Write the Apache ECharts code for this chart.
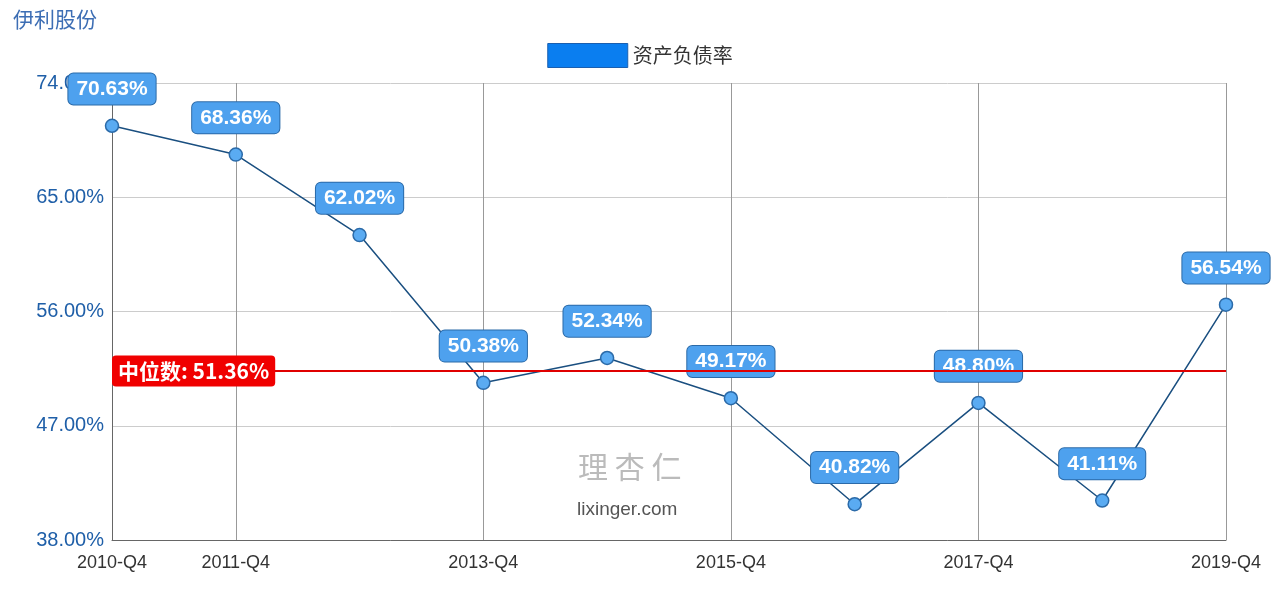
<!DOCTYPE html>
<html><head><meta charset="utf-8">
<script src="https://cdn.jsdelivr.net/npm/echarts@6/dist/echarts.min.js"></script>
<style>html,body{margin:0;padding:0;background:#fff}#c{width:1280px;height:600px}</style>
</head><body><div id="c"></div>
<script>
const categories=['2010-Q4','2011-Q4','2012-Q4','2013-Q4','2014-Q4','2015-Q4','2016-Q4','2017-Q4','2018-Q4','2019-Q4'];
const debtRatio=[70.63,68.36,62.02,50.38,52.34,49.17,40.82,48.80,41.11,56.54];
const median=51.36;
const shownTicks=[0,1,3,5,7,9];
const chart=echarts.init(document.getElementById('c'));
chart.setOption({
  backgroundColor:'#fff',
  title:{text:'伊利股份',left:8,top:4,textStyle:{color:'#3d6eb4',fontSize:21,fontWeight:'normal',fontFamily:'Noto Sans CJK SC'}},
  legend:{top:38,left:'center',itemWidth:80,itemHeight:24,icon:'rect',
    itemStyle:{color:'#0a7ef0',borderColor:'#1a5fb0',borderWidth:1},
    textStyle:{fontSize:20,color:'#333',fontFamily:'Noto Sans CJK SC'},data:['资产负债率']},
  grid:{left:112,right:54,top:83,bottom:60},
  xAxis:{type:'category',boundaryGap:false,data:categories,
    axisLine:{lineStyle:{color:'#666'}},axisTick:{show:false},
    axisLabel:{interval:(i)=>shownTicks.includes(i),fontSize:18,color:'#333',margin:14,fontFamily:'Liberation Sans'},
    splitLine:{show:true,interval:(i)=>shownTicks.includes(i),lineStyle:{color:'#999'}}},
  yAxis:{type:'value',min:38,max:74,interval:9,
    axisLine:{show:true,lineStyle:{color:'#666'}},axisTick:{show:false},
    axisLabel:{fontSize:20,color:'#1f5fa8',fontFamily:'Liberation Sans',formatter:v=>v.toFixed(2)+'%'},
    splitLine:{lineStyle:{color:'#ccc'}}},
  graphic:[
    {type:'text',left:578,top:452,style:{text:'理 杏 仁',fontSize:30,fill:'#bbb',fontFamily:'Noto Sans CJK SC'}},
    {type:'text',left:577,top:500,style:{text:'lixinger.com',fontSize:19,fill:'#555',fontFamily:'Liberation Sans'}}
  ],
  series:[{name:'资产负债率',type:'line',data:debtRatio,
    lineStyle:{color:'#1a4f80',width:1.5},
    symbol:'circle',symbolSize:13,
    itemStyle:{color:'#5aabf2',borderColor:'#2b6aa8',borderWidth:1.5},
    label:{show:true,position:'top',distance:14,formatter:p=>p.value.toFixed(2)+'%',
      color:'#fff',fontSize:21,fontWeight:'bold',fontFamily:'Liberation Sans',
      backgroundColor:'#4ea1ee',borderColor:'#2b6aa8',borderWidth:1,borderRadius:5,padding:[5,8]},
    markLine:{symbol:'none',silent:true,data:[{yAxis:median}],
      lineStyle:{color:'#e00000',type:'solid',width:2},
      label:{position:'insideStartTop',distance:[0,-16],formatter:'中位数: 51.36%',color:'#fff',fontSize:21,fontWeight:'bold',
        backgroundColor:'#f00000',borderRadius:4,padding:[5,6],fontFamily:'Noto Sans CJK SC'}}
  }]
});
</script></body></html>
